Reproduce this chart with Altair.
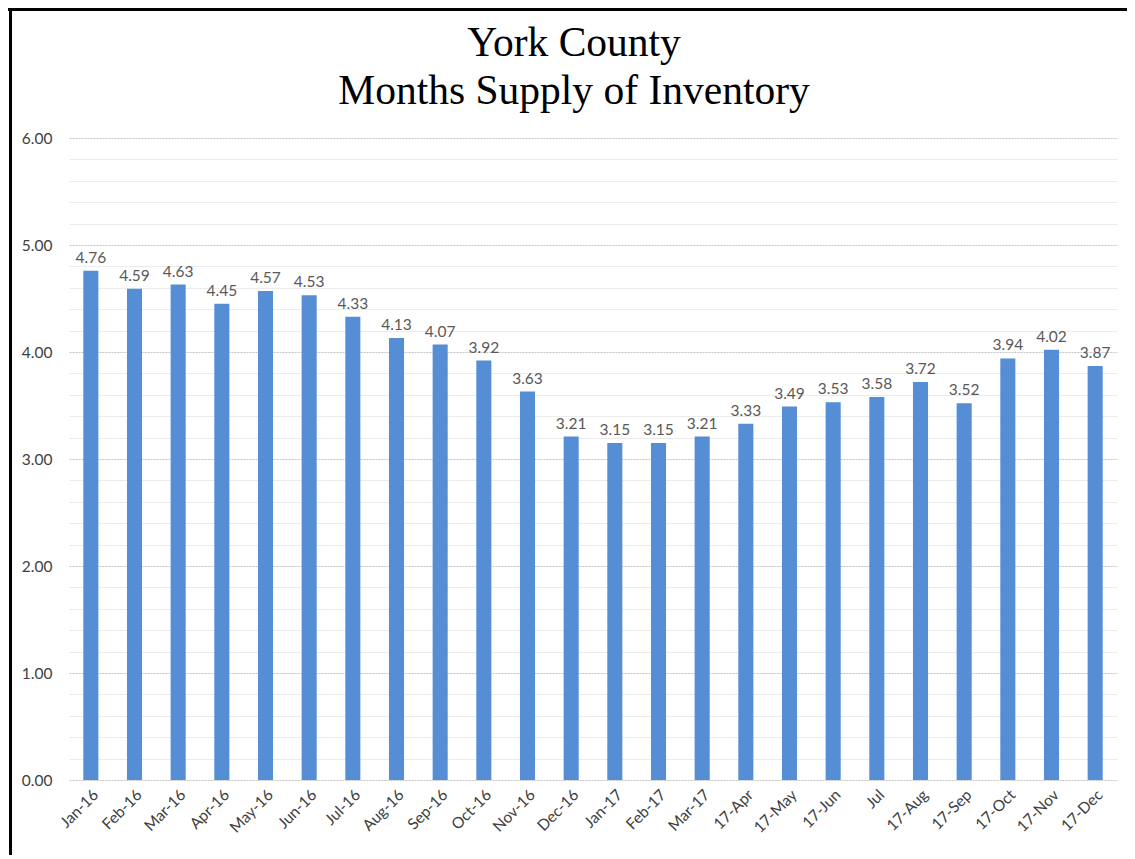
import altair as alt
import pandas as pd

months = ["Jan-16", "Feb-16", "Mar-16", "Apr-16", "May-16", "Jun-16", "Jul-16", "Aug-16",
          "Sep-16", "Oct-16", "Nov-16", "Dec-16", "Jan-17", "Feb-17", "Mar-17", "17-Apr",
          "17-May", "17-Jun", "Jul", "17-Aug", "17-Sep", "17-Oct", "17-Nov", "17-Dec"]
supply = [4.76, 4.59, 4.63, 4.45, 4.57, 4.53, 4.33, 4.13, 4.07, 3.92, 3.63, 3.21,
          3.15, 3.15, 3.21, 3.33, 3.49, 3.53, 3.58, 3.72, 3.52, 3.94, 4.02, 3.87]
y_ticks = [round(i * 0.2, 1) for i in range(31)]
title_lines = ["York County", "Months Supply of Inventory"]

df = pd.DataFrame({"month": months, "supply": supply})

W, H = 1048, 642
is_major = "abs(datum.value - round(datum.value)) < 0.001"

x_enc = alt.X("month:N", sort=months, title=None,
              scale=alt.Scale(paddingInner=0.655),
              axis=alt.Axis(labelAngle=-45, labelFontSize=15.5, labelColor="#404040",
                            labelFont="Lato", ticks=False, domain=False,
                            labelPadding=7))
y_enc = alt.Y("supply:Q", title=None,
              scale=alt.Scale(domain=[0, 6], nice=False),
              axis=alt.Axis(values=y_ticks, tickCount=40,
                            labelExpr=f"{is_major} ? format(datum.value, '.2f') : ''",
                            labelFontSize=15.5, labelColor="#404040", labelFont="Lato",
                            labelPadding=17, ticks=False, domain=False,
                            labelOverlap=False,
                            gridColor={"condition": {"test": is_major, "value": "#c4c4c4"},
                                       "value": "#ebebeb"},
                            gridDash={"condition": {"test": is_major, "value": [2, 1]},
                                      "value": []},
                            gridWidth=1))

bars = alt.Chart(df).mark_bar(color="#558ED5").encode(x=x_enc, y=y_enc)
labels = alt.Chart(df).mark_text(baseline="bottom", dy=-5, fontSize=15.5,
                                 color="#595959", font="Lato").encode(
    x=alt.X("month:N", sort=months), y="supply:Q",
    text=alt.Text("supply:Q", format=".2f"))

frame_data = alt.Data(values=[{"k": 0}])
top_rule = alt.Chart(frame_data).mark_rule(color="#000000", strokeWidth=3).encode(
    x=alt.value(-61), x2=alt.value(W + 10), y=alt.value(-128.5))
left_rule = alt.Chart(frame_data).mark_rule(color="#000000", strokeWidth=3).encode(
    x=alt.value(-58.5), y=alt.value(-130), y2=alt.value(H + 75))

chart = alt.layer(bars, labels, top_rule, left_rule).properties(
    width=W, height=H,
    title=alt.TitleParams(title_lines, font="Liberation Serif", fontSize=41.5,
                          fontWeight="normal", color="#000000", anchor="middle",
                          lineHeight=48, offset=0, dy=106, dx=-19),
    autosize=alt.AutoSizeParams(type="none"),
    padding={"left": 61, "top": 130, "right": 10, "bottom": 75},
).configure(background="#ffffff", view=alt.ViewConfig(stroke=None))

chart.save("out.html", embed_options={"renderer": "svg", "actions": False})
